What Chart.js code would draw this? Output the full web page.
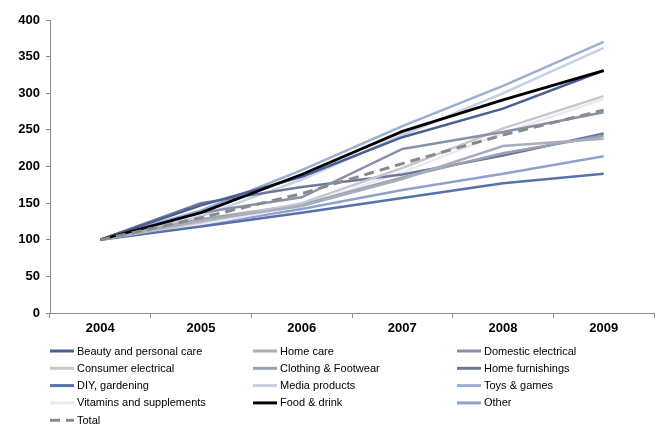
<!DOCTYPE html>
<html>
<head>
<meta charset="utf-8">
<title>Sales growth index by category</title>
<script src="https://cdn.jsdelivr.net/npm/chart.js"></script>
<style>
  html, body { margin: 0; padding: 0; background: #fff; }
  #wrap { width: 659px; height: 424px; }
</style>
</head>
<body>
<div id="wrap"><canvas id="growth"></canvas></div>
<script>
const years = ['2004', '2005', '2006', '2007', '2008', '2009'];

// index, 2004 = 100
const beauty       = [100, 147, 186, 240, 279, 331];
const homeCare     = [100, 126, 146, 183, 228, 238];
const domestic     = [100, 137, 158, 224, 247, 274];
const consumerElec = [100, 124, 150, 198, 252, 296];
const clothing     = [100, 128, 148, 185, 218, 242];
const furnishings  = [100, 150, 172, 189, 215, 245];
const diy          = [100, 118, 137, 157, 177, 190];
const media        = [100, 132, 182, 243, 300, 362];
const toys         = [100, 140, 195, 255, 310, 370];
const vitamins     = [100, 121, 146, 192, 246, 292];
const foodDrink    = [100, 137, 189, 248, 291, 331];
const other        = [100, 120, 142, 168, 190, 214];
const total        = [100, 130, 163, 204, 243, 277];

const yTicks = [0, 50, 100, 150, 200, 250, 300, 350, 400];

const series = [
  { label: 'Beauty and personal care', data: beauty, color: '#4a5f94' },
  { label: 'Home care', data: homeCare, color: '#a9aebd' },
  { label: 'Domestic electrical', data: domestic, color: '#8891ab' },
  { label: 'Consumer electrical', data: consumerElec, color: '#c6c8cc' },
  { label: 'Clothing & Footwear', data: clothing, color: '#9aa0b3' },
  { label: 'Home furnishings', data: furnishings, color: '#6c7897' },
  { label: 'DIY, gardening', data: diy, color: '#5572aa' },
  { label: 'Media products', data: media, color: '#c7d1e5' },
  { label: 'Toys & games', data: toys, color: '#9badd0' },
  { label: 'Vitamins and supplements', data: vitamins, color: '#e7eaf0' },
  { label: 'Food & drink', data: foodDrink, color: '#000000', width: 2.8, order: 1 },
  { label: 'Other', data: other, color: '#8ea2cb' },
  { label: 'Total', data: total, color: '#8a8a8a', dash: [10, 6], width: 3, order: 0 }
];

const FONT = "'Liberation Sans', Arial, sans-serif";

// three-column legend underneath the plot
const gridLegend = {
  id: 'gridLegend',
  afterDraw(chart) {
    const ctx = chart.ctx;
    const colX = [50, 253, 457];
    const rowY = 351, rowH = 17.3;
    ctx.save();
    ctx.font = '11px ' + FONT;
    ctx.textBaseline = 'middle';
    chart.data.datasets.forEach((ds, i) => {
      const x = colX[i % 3];
      const y = rowY + Math.floor(i / 3) * rowH;
      ctx.beginPath();
      ctx.strokeStyle = ds.borderColor;
      ctx.lineWidth = 3;
      ctx.setLineDash(ds.borderDash || []);
      ctx.moveTo(x, y);
      ctx.lineTo(x + 24, y);
      ctx.stroke();
      ctx.setLineDash([]);
      ctx.fillStyle = '#000';
      ctx.fillText(ds.label, x + 27, y + 0.5);
    });
    ctx.restore();
  }
};

new Chart(document.getElementById('growth').getContext('2d'), {
  type: 'line',
  data: {
    labels: years,
    datasets: series.map((s, i) => ({
      label: s.label,
      data: s.data,
      borderColor: s.color,
      backgroundColor: s.color,
      borderWidth: s.width || 2.5,
      borderDash: s.dash || [],
      pointRadius: 0,
      tension: 0,
      fill: false,
      order: s.order !== undefined ? s.order : 2
    }))
  },
  options: {
    responsive: true,
    maintainAspectRatio: false,
    animation: false,
    layout: { padding: { top: 20, right: 5, bottom: 0, left: 0 } },
    plugins: {
      legend: { display: false },
      tooltip: { enabled: false }
    },
    scales: {
      x: {
        offset: true,
        grid: { offset: true, drawOnChartArea: false, tickLength: 5, color: '#8c8c8c' },
        border: { color: '#8c8c8c', width: 1 },
        ticks: { color: '#000', padding: 3, font: { family: FONT, size: 13, weight: 'bold' } },
        afterFit(scale) { scale.height = 111; }
      },
      y: {
        min: 0,
        max: 400,
        afterBuildTicks(scale) { scale.ticks = yTicks.map(v => ({ value: v })); },
        grid: { drawOnChartArea: false, tickLength: 4, color: '#8c8c8c' },
        border: { color: '#8c8c8c', width: 1 },
        ticks: { color: '#000', padding: 6, font: { family: FONT, size: 13, weight: 'bold' } },
        afterFit(scale) { scale.width = 50; }
      }
    }
  },
  plugins: [gridLegend]
});
</script>
</body>
</html>
